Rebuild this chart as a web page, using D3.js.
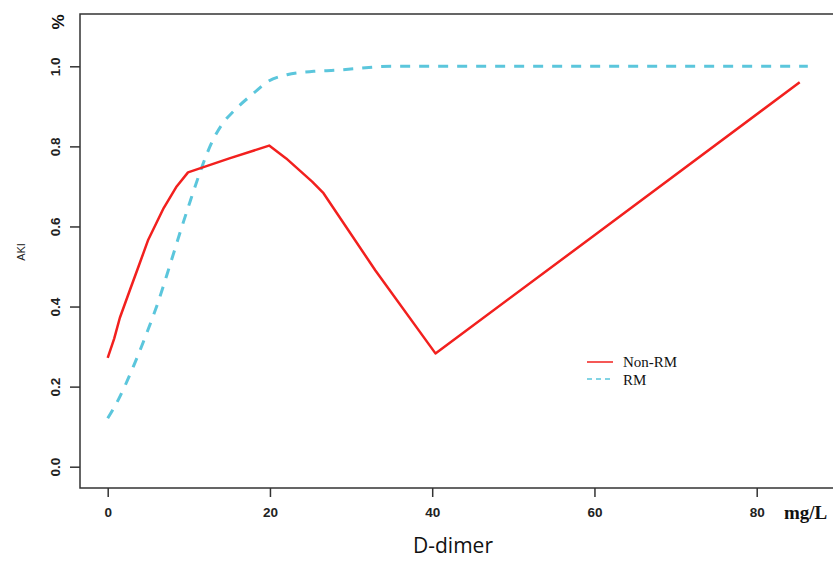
<!DOCTYPE html>
<html><head><meta charset="utf-8">
<script src="https://cdn.jsdelivr.net/npm/d3@7"></script>
<style>body{margin:0;background:#fff}</style>
</head><body>
<svg id="c" width="833" height="561"></svg>
<script>
const nonRMx = [0, 0.8, 1.5, 2.75, 3.8, 5, 6.9, 8.5, 9.9, 15, 19.9, 22, 25.2, 26.6, 33, 40.4, 60, 85.3];
const nonRMy = [0.272, 0.32, 0.372, 0.442, 0.5, 0.567, 0.646, 0.7, 0.735, 0.77, 0.802, 0.77, 0.712, 0.683, 0.49, 0.283, 0.578, 0.96];
const rmX = [0, 1.3, 3.16, 4.8, 6.24, 7.68, 9.0, 10.2, 11.2, 12.1, 13.0, 14.2, 15.5, 18, 19.8, 22.1, 25.4, 28, 35, 50, 70, 86.3];
const rmY = [0.121, 0.167, 0.25, 0.333, 0.4125, 0.504, 0.59, 0.665, 0.725, 0.775, 0.817, 0.858, 0.8875, 0.933, 0.9625, 0.979, 0.9875, 0.99, 1.0, 1.0, 1.0, 1.0];
const xTicks = [0, 20, 40, 60, 80];
const yTicks = [0.0, 0.2, 0.4, 0.6, 0.8, 1.0];
const seriesNames = ["Non-RM", "RM"];

const svg = d3.select("#c");
const x = d3.scaleLinear().domain([0, 80]).range([107.7, 756.7]);
const y = d3.scaleLinear().domain([0, 1]).range([466.7, 66.3]);

// frame
svg.append("rect").attr("x", 80).attr("y", 14).attr("width", 770).attr("height", 474)
  .attr("fill", "none").attr("stroke", "#333").attr("stroke-width", 1.5);

// x axis
const xa = svg.append("g").attr("transform", "translate(0,488)")
  .call(d3.axisBottom(x).tickValues(xTicks).tickSize(9).tickPadding(10).tickFormat(d3.format("d")));
xa.select(".domain").remove();
xa.selectAll("line").attr("stroke", "#333").attr("stroke-width", 1.5);
xa.selectAll("text").attr("font-family", "Liberation Sans, Arial, sans-serif").attr("font-weight", "bold")
  .attr("font-size", 13.5).attr("fill", "#222");

// y axis
const ya = svg.append("g").attr("transform", "translate(80,0)")
  .call(d3.axisLeft(y).tickValues(yTicks).tickSize(10).tickFormat(d3.format(".1f")));
ya.select(".domain").remove();
ya.selectAll("line").attr("stroke", "#333").attr("stroke-width", 1.5);
ya.selectAll("text").attr("font-family", "Liberation Sans, Arial, sans-serif").attr("font-weight", "bold")
  .attr("font-size", 13.5).attr("fill", "#222")
  .attr("x", null).attr("dy", null)
  .attr("text-anchor", "middle")
  .attr("transform", "translate(-25,0) rotate(-90)")
  .attr("y", 0).attr("dy", "0.35em");

// lines
const line = d3.line().x(d => x(d[0])).y(d => y(d[1]));
const nonRM = nonRMx.map((v, i) => [v, nonRMy[i]]);
const rm = rmX.map((v, i) => [v, rmY[i]]);
const lineC = d3.line().curve(d3.curveMonotoneX).x(d => x(d[0])).y(d => y(d[1]));

svg.append("path").datum(rm).attr("d", lineC).attr("fill", "none")
  .attr("stroke", "#5bc6dc").attr("stroke-width", 3).attr("stroke-dasharray", "10,9");
svg.append("path").datum(nonRM).attr("d", line).attr("fill", "none")
  .attr("stroke", "#f2201e").attr("stroke-width", 2.5).attr("stroke-linejoin", "round");

// legend
const lg = svg.append("g");
lg.append("line").attr("x1", 587).attr("x2", 613).attr("y1", 362).attr("y2", 362)
  .attr("stroke", "#f2201e").attr("stroke-width", 1.5);
lg.append("line").attr("x1", 587).attr("x2", 613).attr("y1", 379).attr("y2", 379)
  .attr("stroke", "#5bc6dc").attr("stroke-width", 1.5).attr("stroke-dasharray", "5,4");
lg.selectAll("text").data(seriesNames).join("text")
  .attr("x", 623).attr("y", (d, i) => 367 + i * 18)
  .attr("font-family", "Liberation Serif, Times New Roman, serif").attr("font-size", 15)
  .attr("fill", "#111").text(d => d);

// labels
svg.append("text").attr("transform", "translate(64,22) rotate(-90)").attr("text-anchor", "middle")
  .attr("font-family", "Liberation Sans, Arial, sans-serif").attr("font-weight", "bold").attr("font-size", 17)
  .attr("fill", "#111").text("%");
svg.append("text").attr("transform", "translate(25,252) rotate(-90)").attr("text-anchor", "middle")
  .attr("font-family", "Liberation Sans, Arial, sans-serif").attr("font-size", 11)
  .attr("fill", "#222").text("AKI");
svg.append("text").attr("x", 784).attr("y", 519)
  .attr("font-family", "Liberation Serif, Times New Roman, serif").attr("font-weight", "bold").attr("font-size", 19)
  .attr("fill", "#111").text("mg/L");
svg.append("text").attr("x", 453).attr("y", 553).attr("text-anchor", "middle")
  .attr("font-family", "Open Sans, Calibri, sans-serif").attr("font-size", 21)
  .attr("fill", "#111").text("D-dimer");
</script>
</body></html>
